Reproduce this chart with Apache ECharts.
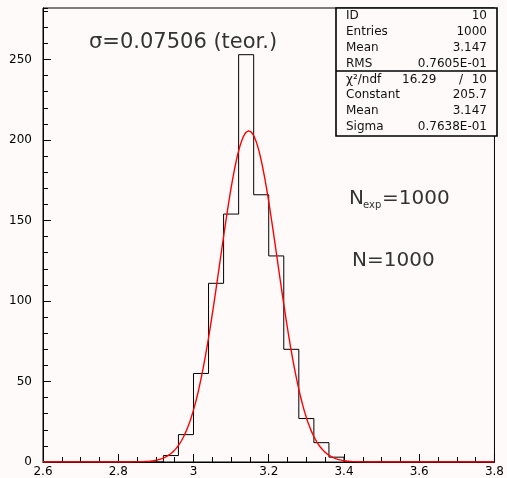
<!DOCTYPE html>
<html><head><meta charset="utf-8">
<script src="https://cdn.jsdelivr.net/npm/echarts@6/dist/echarts.min.js"></script>
<style>html,body{margin:0;padding:0;background:#fffafa}#c{width:507px;height:478px}</style>
</head><body><div id="c"></div>
<script>
// ---- data ----
const binStart = 2.6;
const binWidth = 0.04;
const counts = [0,0,0,0,0,0,0,0,4,17,55,111,154,253,166,128,70,27,12,3,0,0,0,0,0,0,0,0,0,0];
const fitConstant = 205.7;
const fitMean = 3.147;
const fitSigma = 0.07638;
const xTickLabels = ['2.6','2.8','3','3.2','3.4','3.6','3.8'];
const yTickLabels = ['0','50','100','150','200','250'];
const statsLabels = ['ID','Entries','Mean','RMS'];
const statsValues = ['10','1000','3.147','0.7605E-01'];
const fitLabels = ['χ²/ndf','Constant','Mean','Sigma'];
const fitValues = ['10','205.7','3.147','0.7638E-01'];
const chi2Value = '16.29';
const sigmaText = 'σ=0.07506 (teor.)';
const nExpText = '=1000';
const nText = 'N=1000';

// ---- build ----
const xMin = 2.6, xMax = 3.8, yMax = 282;
const histPts = counts.map((c, i) => [+(binStart + i * binWidth).toFixed(4), c]);
histPts.push([+(binStart + counts.length * binWidth).toFixed(4), counts[counts.length - 1]]);
const fitPts = [];
for (let k = 0; k <= 600; k++) {
  const x = xMin + (xMax - xMin) * k / 600;
  fitPts.push([x, fitConstant * Math.exp(-0.5 * Math.pow((x - fitMean) / fitSigma, 2))]);
}

const FONT = '"DejaVu Sans", sans-serif';
const chart = echarts.init(document.getElementById('c'), null, {renderer: 'canvas'});

const graphics = [];
// stats box
const bx = 336, by = 8, bw = 161, bh = 128;
graphics.push({type: 'rect', shape: {x: bx, y: by, width: bw, height: bh},
  style: {fill: '#fffafa', stroke: '#000', lineWidth: 1.6}, z: 100});
graphics.push({type: 'line', shape: {x1: bx, y1: 71, x2: bx + bw, y2: 71},
  style: {stroke: '#000', lineWidth: 1.6}, z: 101});
const rowY = i => 16 + 15.85 * i;
const lx = 346, rx = 487;
const tstyle = (text, x, y, align) => ({type: 'text', x, y, z: 102,
  style: {text, fill: '#111', font: '12px ' + FONT, textAlign: align, textVerticalAlign: 'middle'}});
statsLabels.forEach((t, i) => { graphics.push(tstyle(t, lx, rowY(i), 'left')); graphics.push(tstyle(statsValues[i], rx, rowY(i), 'right')); });
fitLabels.forEach((t, i) => { graphics.push(tstyle(t, lx, rowY(i + 4), 'left')); graphics.push(tstyle(fitValues[i], rx, rowY(i + 4), 'right')); });
graphics.push(tstyle(chi2Value, 402, rowY(4), 'left'));
graphics.push(tstyle('/', 461, rowY(4), 'center'));
// annotations
const TC = '#333';
graphics.push({type: 'text', x: 89, y: 42.5, z: 50, style: {text: sigmaText, fill: TC, font: '21px ' + FONT, textAlign: 'left', textVerticalAlign: 'middle'}});
graphics.push({type: 'text', x: 349, y: 199, z: 50, style: {text: 'N', fill: TC, font: '20px ' + FONT, textAlign: 'left', textVerticalAlign: 'middle'}});
graphics.push({type: 'text', x: 363, y: 205, z: 50, style: {text: 'exp', fill: TC, font: '10px ' + FONT, textAlign: 'left', textVerticalAlign: 'middle'}});
graphics.push({type: 'text', x: 382, y: 199, z: 50, style: {text: nExpText, fill: TC, font: '20px ' + FONT, textAlign: 'left', textVerticalAlign: 'middle'}});
graphics.push({type: 'text', x: 352, y: 260.5, z: 50, style: {text: nText, fill: TC, font: '20px ' + FONT, textAlign: 'left', textVerticalAlign: 'middle'}});

chart.setOption({
  backgroundColor: '#fffafa',
  animation: false,
  grid: {left: 43, right: 10, top: 8, bottom: 16, show: true, borderColor: '#000', borderWidth: 1, backgroundColor: 'transparent'},
  xAxis: {
    type: 'value', min: xMin, max: xMax, interval: 0.2,
    axisLine: {show: true, onZero: false, lineStyle: {color: '#000', width: 1}},
    axisTick: {show: true, inside: true, length: 8, lineStyle: {color: '#000'}},
    minorTick: {show: true, splitNumber: 4, length: 5, lineStyle: {color: '#000'}},
    splitLine: {show: false},
    axisLabel: {color: '#000', fontFamily: FONT, fontSize: 12, margin: 4,
      formatter: v => { const i = Math.round((v - xMin) / 0.2); return xTickLabels[i] || ''; }}
  },
  yAxis: [{
    type: 'value', min: 0, max: yMax, interval: 50,
    axisLine: {show: true, lineStyle: {color: '#000', width: 1}},
    axisTick: {show: true, inside: true, length: 8, lineStyle: {color: '#000'}},
    splitLine: {show: false},
    axisLabel: {color: '#000', fontFamily: FONT, fontSize: 12, margin: 11, showMaxLabel: false,
      formatter: v => { const i = Math.round(v / 50); return (Math.abs(v - i * 50) < 1e-6 && yTickLabels[i]) ? yTickLabels[i] : ''; }}
  }, {
    type: 'value', min: 0, max: yMax, interval: 10, position: 'left', offset: 0,
    axisLine: {show: false},
    axisTick: {show: true, inside: true, length: 5, lineStyle: {color: '#000'}},
    axisLabel: {show: false}, splitLine: {show: false}
  }],
  series: [{
    type: 'line', data: histPts, step: 'end', symbol: 'none', yAxisIndex: 0,
    lineStyle: {color: '#000', width: 1}, z: 3
  }, {
    type: 'line', data: fitPts, symbol: 'none', smooth: false, yAxisIndex: 0,
    lineStyle: {color: '#ff0000', width: 1.4}, z: 4
  }],
  graphic: graphics
});
</script></body></html>
